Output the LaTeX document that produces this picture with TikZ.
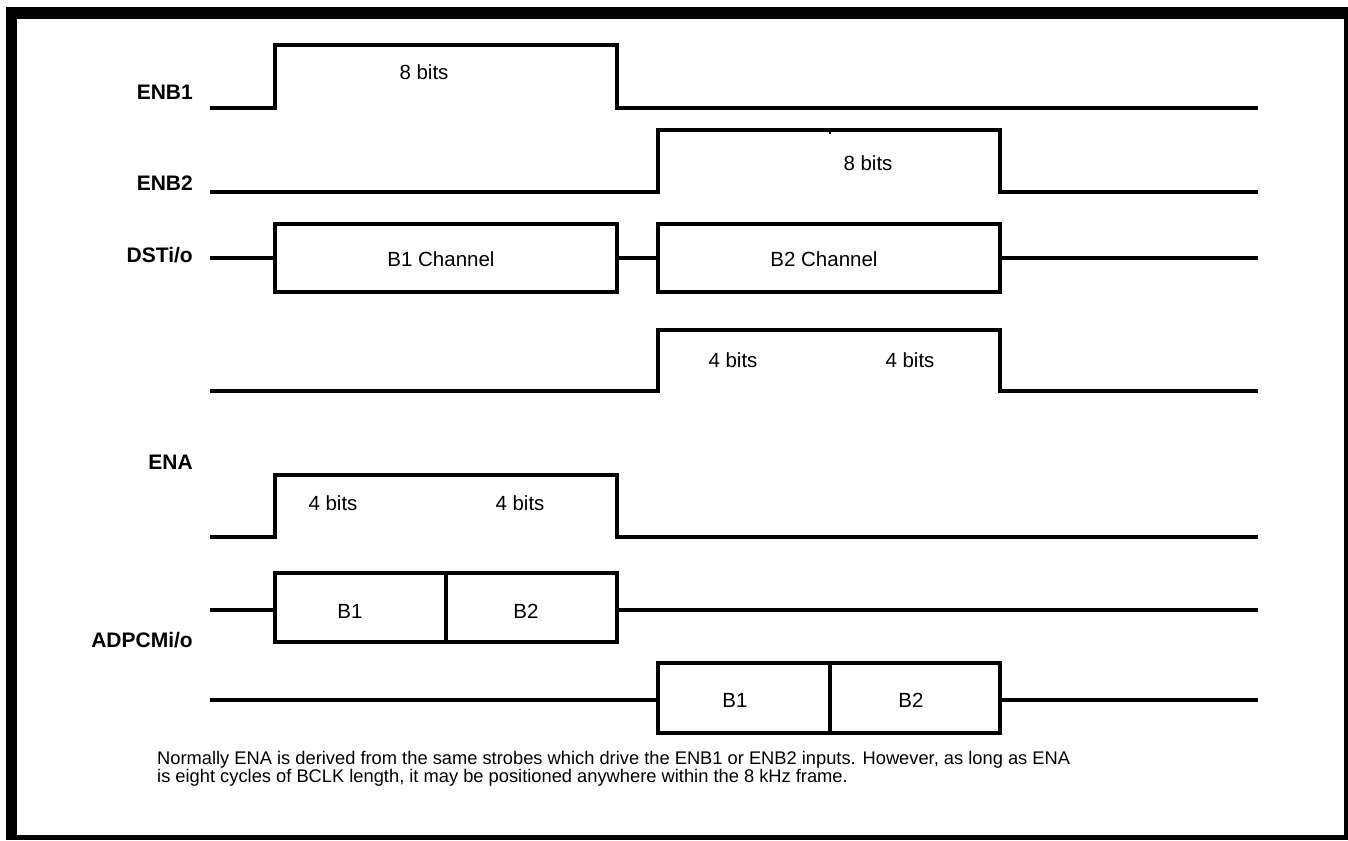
\documentclass[tikz,border=0pt]{standalone}
\usepackage{fontspec}
\setmainfont{Liberation Sans}
\begin{document}
\begin{tikzpicture}[x=1pt,y=-1pt,
  wave/.style={line width=3.5pt, line join=miter},
  tickline/.style={line width=1.5pt},
  lbl/.style={font=\fontsize{21}{25}\selectfont\bfseries, anchor=east, inner sep=0pt},
  txt/.style={font=\fontsize{20.5}{24}\selectfont, inner sep=0pt},
  note/.style={font=\fontsize{18.3}{18.3}\selectfont, anchor=north west, inner sep=0pt, align=left}]
\useasboundingbox (0,0) rectangle (1348,840);
% frame
\fill[black] (6,7) rectangle (1348,19);
\fill[black] (6,7) rectangle (17,840);
\fill[black] (1344,7) rectangle (1348,840);
\fill[black] (6,835) rectangle (1348,840);
% labels
\node[lbl] (lenb1) at (193,92) {ENB1};
\node[lbl] (lenb2) at (193,183) {ENB2};
\node[lbl] (ldst) at (193,255) {DSTi/o};
\node[lbl] (lena) at (193,462) {ENA};
\node[lbl] (ladpcm) at (193,640) {ADPCMi/o};
% ENB1
\draw[wave] (210,108) -- (275,108) -- (275,45) -- (617,45) -- (617,108) -- (1258,108);
\node[txt] (t8a) at (424,72) {8 bits};
% ENB2
\draw[wave] (210,192) -- (658,192) -- (658,130) -- (1000,130) -- (1000,192) -- (1258,192);
\draw[tickline] (830,131) -- (830,134);
\node[txt] (t8b) at (868,163) {8 bits};
% DSTi/o
\draw[wave] (210,258) -- (275,258);
\draw[wave] (275,224) rectangle (617,292);
\draw[wave] (617,258) -- (658,258);
\draw[wave] (658,224) rectangle (1000,292);
\draw[wave] (1000,258) -- (1258,258);
\node[txt] (tb1c) at (441,259) {B1 Channel};
\node[txt] (tb2c) at (824,259) {B2 Channel};
% ENA (B2 position)
\draw[wave] (210,391) -- (658,391) -- (658,330) -- (1000,330) -- (1000,391) -- (1258,391);
\node[txt] (t4a) at (733,360) {4 bits};
\node[txt] (t4b) at (910,360) {4 bits};
% ENA (B1 position)
\draw[wave] (210,537) -- (275,537) -- (275,475) -- (617,475) -- (617,537) -- (1258,537);
\node[txt] (t4c) at (333,503) {4 bits};
\node[txt] (t4d) at (520,503) {4 bits};
% ADPCM first
\draw[wave] (210,610) -- (275,610);
\draw[wave] (275,573) rectangle (617,642);
\draw[wave] (446,573) -- (446,642);
\draw[wave] (617,610) -- (1258,610);
\node[txt] (ab1) at (350,611) {B1};
\node[txt] (ab2) at (526,611) {B2};
% ADPCM second
\draw[wave] (210,700) -- (658,700);
\draw[wave] (658,663) rectangle (1000,733);
\draw[wave] (830,663) -- (830,733);
\draw[wave] (1000,700) -- (1258,700);
\node[txt] (bb1) at (735,700) {B1};
\node[txt] (bb2) at (911,700) {B2};
% note
\node[note] (nt) at (157,751) {Normally ENA is derived from the same strobes which drive the ENB1 or ENB2 inputs. However, as long as ENA\\is eight cycles of BCLK length, it may be positioned anywhere within the 8 kHz frame.};
\end{tikzpicture}
\end{document}
